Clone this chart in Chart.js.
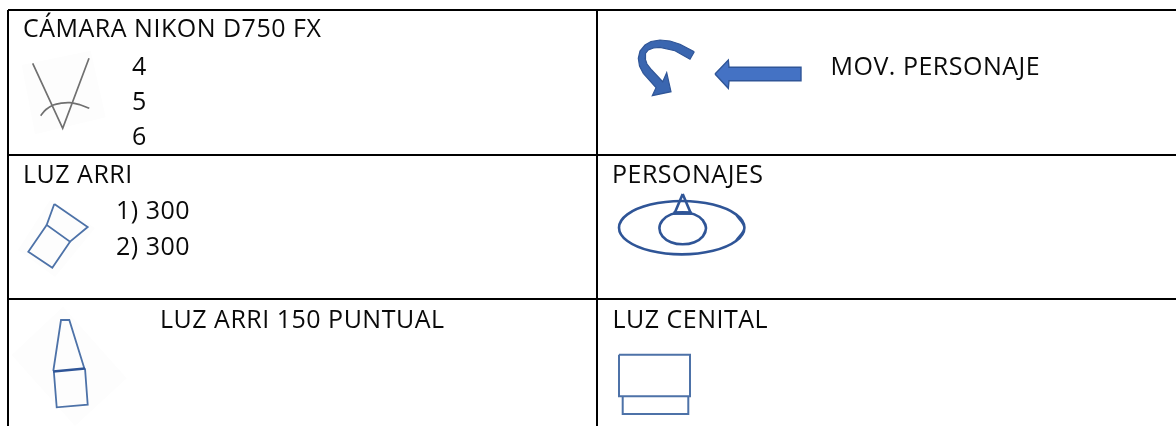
<!DOCTYPE html>
<html>
<head>
<meta charset="utf-8">
<title>Plano de cámara</title>
<script src="https://cdn.jsdelivr.net/npm/chart.js@4"></script>
<style>
    html, body { margin: 0; padding: 0; background: #fff; }
    canvas { display: block; }
</style>
</head>
<body>
<canvas id="myChart" width="1176" height="426"></canvas>
<script>
// table texts
const labelTexts = ["CÁMARA NIKON D750 FX", "4", "5", "6", "LUZ ARRI", "1) 300", "2) 300", "LUZ ARRI 150 PUNTUAL", "MOV. PERSONAJE", "PERSONAJES", "LUZ CENITAL"];
const labelX = [23, 132, 132, 132, 23, 116, 116, 160, 830.5, 612, 612.5];
const labelY = [37, 75, 110, 145, 183, 219, 255, 328, 75, 183, 328];

// table grid
const gridLeft = [[8, 10], [8, 426]];
const gridMiddle = [[597, 10], [597, 426]];
const gridTop = [[8, 10], [1176, 10]];
const gridRow1 = [[8, 155], [1176, 155]];
const gridRow2 = [[8, 299], [1176, 299]];

// camera sketch
const cameraPatch = [[21.7, 65], [90.7, 50.7], [105.7, 117.3], [35, 134.3], [21.7, 65]];
const cameraLines = [[32.7, 63.3], [62.7, 128.3], [89, 58.3]];
const cameraArc = [[40.7, 115.7], [46, 109.5], [53.3, 105], [61, 103.2], [70, 102.7], [80, 104.8], [89.3, 108.3]];

// arrows
const straightArrow = [[715, 74], [728.3, 60], [729, 67.3], [801, 67.3], [801, 80.7], [729, 80.7], [728.3, 88.3], [715, 74]];
const curvedArrow = [[694.3, 51.7], [680, 44.3], [670, 41], [660, 40], [651, 41.5], [645, 45], [640, 51], [638.3, 58.3], [639.5, 66], [643.3, 73.3], [656, 87.7], [652.3, 95.7], [671, 91.7], [666.7, 72.7], [662.7, 81.7], [651.7, 70], [647, 64], [645, 58.3], [645.5, 53.5], [648.3, 50], [653.5, 48], [660, 47.3], [675, 50.7], [690, 59.3], [694.3, 51.7]];

// luz arri sketch
const arriPatch = [[50, 200], [95, 228], [55, 277], [18, 250], [50, 200]];
const arriTop = [[54.3, 204], [87.7, 227], [70, 241.7], [46.7, 225], [54.3, 204]];
const arriBottom = [[46.7, 225], [28.3, 251.7], [52.3, 267.7], [70, 241.7]];

// personajes sketch, the ends overlap so the curve closes without a corner
const bigEllipse = [[736, 214.4], [744.4, 227.7], [736, 241], [713, 250.8], [681.7, 254.4], [650.4, 250.8], [627.4, 241], [619, 227.7], [627.4, 214.4], [650.4, 204.6], [681.7, 201], [713, 204.6], [736, 214.4], [744.4, 227.7], [736, 241]];
const smallEllipse = [[702.9, 220.3], [706, 228.3], [702.9, 236.3], [694.4, 242.2], [682.7, 244.3], [671, 242.2], [662.5, 236.3], [659.4, 228.3], [662.5, 220.3], [671, 214.4], [682.7, 212.3], [694.4, 214.4], [702.9, 220.3], [706, 228.3], [702.9, 236.3]];
const figureTriangle = [[682.7, 194], [674.5, 213.5], [690.9, 213.5], [682.7, 194]];
const figureBase = [[673.5, 213], [691.5, 213]];

// luz 150 sketch
const spotPatch = [[63, 306.7], [126.7, 378.3], [75, 426], [11.7, 355], [63, 306.7]];
const spotTop = [[53.3, 371], [61, 320], [69.3, 320], [84.3, 368.3]];
const spotBand = [[53.3, 371.5], [85, 368.5]];
const spotBottom = [[53.8, 371], [56.7, 407.3], [87.7, 404.7], [85, 368.3]];

// luz cenital sketch
const cenitalTop = [[619, 354.7], [690, 354.7], [690, 396.3], [619, 396.3], [619, 354.7]];
const cenitalBottom = [[622.7, 396.3], [622.7, 414], [688.3, 414], [688.3, 396.3]];

const toPoints = list => list.map(p => ({ x: p[0], y: p[1] }));

function outline(list, color, width, tension) {
    return {
        data: toPoints(list),
        showLine: true,
        borderColor: color,
        borderWidth: width,
        tension: tension || 0,
        pointRadius: 0,
        fill: false
    };
}

function filled(list, fillColor, lineColor, width) {
    return {
        data: toPoints(list),
        showLine: true,
        backgroundColor: fillColor,
        borderColor: lineColor,
        borderWidth: width,
        pointRadius: 0,
        fill: 'shape'
    };
}

const sketchBlue = '#4d72a8';
const darkBlue = '#2f5597';
const patchGrey = '#fdfdfd';

// writes the table texts at their place on the scales
const tableText = {
    id: 'tableText',
    afterDatasetsDraw(chart) {
        const ctx = chart.ctx;
        ctx.save();
        ctx.font = '25px "Open Sans"';
        ctx.letterSpacing = '0.5px';
        ctx.fillStyle = '#0a0a0a';
        ctx.textBaseline = 'alphabetic';
        labelTexts.forEach((text, i) => {
            ctx.fillText(text, chart.scales.x.getPixelForValue(labelX[i]), chart.scales.y.getPixelForValue(labelY[i]));
        });
        ctx.restore();
    }
};

// first dataset is painted last, so the patches stay at the end of the list
new Chart(document.getElementById('myChart').getContext('2d'), {
    type: 'scatter',
    data: {
        datasets: [
            outline(gridLeft, '#000', 2),
            outline(gridMiddle, '#000', 2),
            outline(gridTop, '#000', 2),
            outline(gridRow1, '#000', 2),
            outline(gridRow2, '#000', 2),
            outline(cameraLines, '#707070', 1.7),
            outline(cameraArc, '#707070', 1.7, 0.4),
            filled(straightArrow, '#4472c4', darkBlue, 1.4),
            filled(curvedArrow, '#3a66b0', darkBlue, 1.2),
            outline(arriTop, sketchBlue, 1.8),
            outline(arriBottom, sketchBlue, 1.8),
            outline(figureBase, darkBlue, 3.5),
            outline(figureTriangle, darkBlue, 2.6),
            outline(smallEllipse, darkBlue, 2.6, 0.4),
            outline(bigEllipse, darkBlue, 2.6, 0.4),
            outline(spotBand, darkBlue, 2.4),
            outline(spotTop, sketchBlue, 1.8),
            outline(spotBottom, sketchBlue, 1.8),
            outline(cenitalTop, sketchBlue, 2),
            outline(cenitalBottom, sketchBlue, 2),
            filled(cameraPatch, patchGrey, patchGrey, 0),
            filled(arriPatch, patchGrey, patchGrey, 0),
            filled(spotPatch, patchGrey, patchGrey, 0)
        ]
    },
    options: {
        responsive: false,
        animation: false,
        layout: { padding: 0 },
        plugins: { legend: { display: false }, tooltip: { enabled: false } },
        scales: {
            x: { type: 'linear', display: false, min: 0, max: 1176 },
            y: { type: 'linear', display: false, min: 0, max: 426, reverse: true }
        }
    },
    plugins: [tableText]
});
</script>
</body>
</html>
